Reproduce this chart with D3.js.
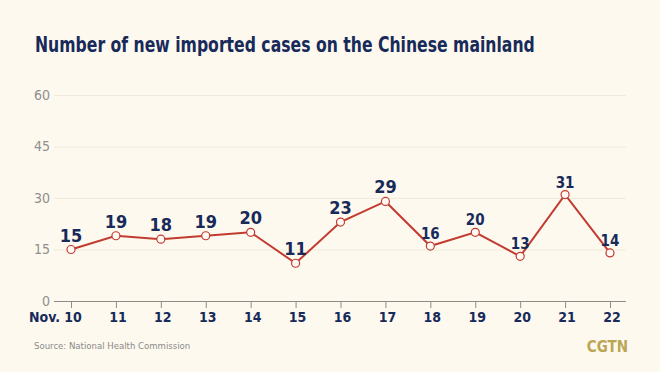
<!DOCTYPE html>
<html>
<head>
<meta charset="utf-8">
<script src="https://cdn.jsdelivr.net/npm/d3@7.9.0/dist/d3.min.js"></script>
<style>
  html, body { margin: 0; padding: 0; background: #fdf9ee; }
  svg { display: block; }
  .cond { font-family: "DejaVu Sans Condensed", "Liberation Sans Narrow", Roboto, sans-serif; }
</style>
</head>
<body>
<svg id="chart" width="660" height="372"></svg>
<script>
// data
const days = ['10', '11', '12', '13', '14', '15', '16', '17', '18', '19', '20', '21', '22'];
const cases = [15, 19, 18, 19, 20, 11, 23, 29, 16, 20, 13, 31, 14];
const yTicks = [0, 15, 30, 45, 60];
// labels drawn a bit larger in the first part of the original
const bigLabel = [1, 1, 1, 1, 1, 1, 1, 1, 0, 0, 0, 0, 0];

const svg = d3.select('#chart');
const W = 660, H = 372;

svg.append('rect').attr('width', W).attr('height', H).attr('fill', '#fdf9ee');

const x = d3.scalePoint().domain(days).range([71, 610]);
const y = d3.scaleLinear().domain([0, 60]).range([301, 95]);

// title, squeezed horizontally to the original width
const title = svg.append('text')
  .attr('class', 'cond')
  .attr('x', 0).attr('y', 0)
  .attr('font-size', 22).attr('font-weight', 'bold')
  .attr('fill', '#172a5a')
  .text('Number of new imported cases on the Chinese mainland');
const tw = title.node().getComputedTextLength();
const sx = Math.min(1, 500 / tw);
title.attr('transform', `translate(35,52) scale(${sx},1)`);

// grid + y labels
const yAxis = svg.append('g').attr('transform', 'translate(54,0)')
  .call(d3.axisLeft(y).tickValues(yTicks).tickSize(-572).tickPadding(4));
yAxis.select('.domain').remove();
yAxis.selectAll('.tick line').attr('stroke', '#efeadb').attr('stroke-width', 1);
yAxis.selectAll('.tick text')
  .attr('class', 'cond')
  .attr('fill', '#8f8f8f').attr('font-size', 14);
yAxis.selectAll('.tick').filter(d => d === 0).select('line').attr('stroke', '#8c8c88');

// x axis
const xAxis = svg.append('g').attr('transform', 'translate(0,301)')
  .call(d3.axisBottom(x).tickSize(7).tickPadding(4));
xAxis.select('.domain').remove();
xAxis.selectAll('.tick line').attr('stroke', '#8c8c88');
xAxis.selectAll('.tick text')
  .attr('class', 'cond')
  .attr('dx', 1.5)
  .attr('fill', '#172a5a').attr('font-size', 14).attr('font-weight', 'bold');

svg.append('text')
  .attr('class', 'cond')
  .attr('x', 60).attr('y', 322)
  .attr('text-anchor', 'end')
  .attr('font-size', 14).attr('font-weight', 'bold')
  .attr('fill', '#172a5a')
  .text('Nov.');

// line
const line = d3.line().x((d, i) => x(days[i])).y(d => y(d));
svg.append('path')
  .datum(cases)
  .attr('d', line)
  .attr('fill', 'none')
  .attr('stroke', '#c23b30')
  .attr('stroke-width', 2);

svg.selectAll('circle.pt')
  .data(cases)
  .join('circle')
  .attr('class', 'pt')
  .attr('cx', (d, i) => x(days[i]))
  .attr('cy', d => y(d))
  .attr('r', 4)
  .attr('fill', '#fffaf4')
  .attr('stroke', '#c23b30')
  .attr('stroke-width', 1.2);

svg.selectAll('text.val')
  .data(cases)
  .join('text')
  .attr('class', 'val cond')
  .attr('x', (d, i) => x(days[i]))
  .attr('y', (d, i) => y(d) - (bigLabel[i] ? 8 : 7))
  .attr('text-anchor', 'middle')
  .attr('font-size', (d, i) => bigLabel[i] ? 18 : 15)
  .attr('font-weight', 'bold')
  .attr('fill', '#172a5a')
  .text(d => d);

// footer
svg.append('text')
  .attr('class', 'cond')
  .attr('x', 34).attr('y', 349)
  .attr('font-size', 9.5)
  .attr('fill', '#8a8a8a')
  .text('Source: National Health Commission');

svg.append('text')
  .attr('class', 'cond')
  .attr('x', 628).attr('y', 352)
  .attr('text-anchor', 'end')
  .attr('font-size', 15).attr('font-weight', 'bold')
  .attr('fill', '#bba654')
  .text('CGTN');
</script>
</body>
</html>
